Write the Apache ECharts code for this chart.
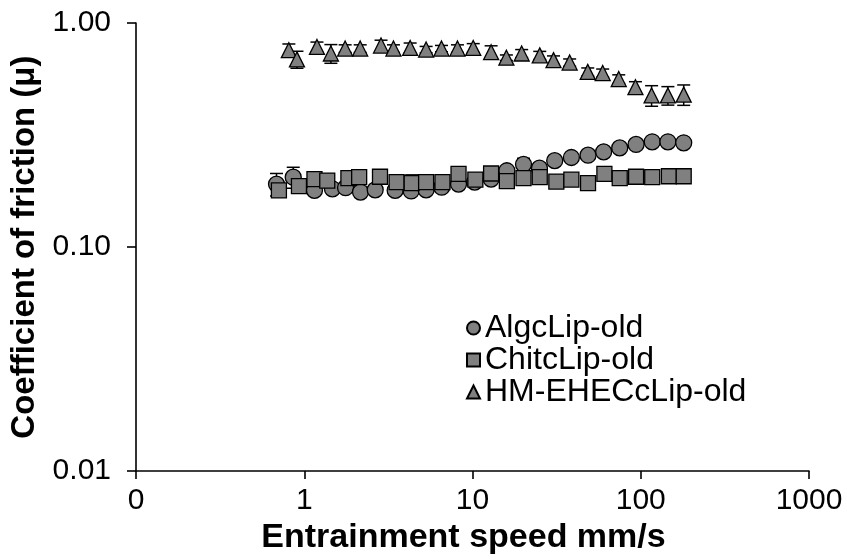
<!DOCTYPE html>
<html>
<head>
<meta charset="utf-8">
<script src="https://cdn.jsdelivr.net/npm/echarts@6/dist/echarts.min.js"></script>
<style>
  html, body { margin: 0; padding: 0; background: #fff; }
  #chart { width: 847px; height: 560px; }
</style>
</head>
<body>
<div id="chart"></div>
<script>
// Friction coefficient vs. entrainment speed (log–log), three lubricant formulations

const seriesNames = ['AlgcLip-old', 'ChitcLip-old', 'HM-EHECcLip-old'];

// AlgcLip-old
const algSpeed = [0.684, 0.86, 1.15, 1.47, 1.76, 2.16, 2.64, 3.47, 4.32, 5.30, 6.56, 8.26, 10.3,
  12.9, 16.0, 20.1, 25.0, 30.8, 38.7, 48.6, 60.2, 75.0, 93.8, 117, 145, 180];
const algMu = [0.191, 0.205, 0.179, 0.182, 0.184, 0.176, 0.180, 0.179, 0.178, 0.180, 0.185, 0.191, 0.195,
  0.201, 0.219, 0.234, 0.225, 0.243, 0.251, 0.257, 0.266, 0.277, 0.287, 0.295, 0.295, 0.292];
const algErr = [0.022, 0.022, 0.008, 0.008, 0.008, 0.008, 0.008, 0.008, 0.008, 0.008, 0.008, 0.008, 0.008,
  0.008, 0.008, 0.015, 0.008, 0.008, 0.008, 0.008, 0.008, 0.008, 0.008, 0.008, 0.008, 0.008];

// ChitcLip-old
const chiSpeed = [0.707, 0.93, 1.15, 1.37, 1.83, 2.12, 2.82, 3.54, 4.35, 5.30, 6.63, 8.26, 10.4,
  12.9, 16.0, 20.1, 25.1, 31.5, 38.7, 48.6, 60.8, 75.0, 93.8, 117, 147, 180];
const chiMu = [0.179, 0.187, 0.201, 0.198, 0.203, 0.205, 0.206, 0.195, 0.193, 0.195, 0.195, 0.212, 0.200,
  0.213, 0.197, 0.203, 0.205, 0.196, 0.200, 0.193, 0.212, 0.203, 0.206, 0.205, 0.207, 0.207];
const chiErr = [0.008, 0.006, 0.006, 0.006, 0.006, 0.006, 0.006, 0.006, 0.017, 0.006, 0.006, 0.006, 0.006,
  0.006, 0.006, 0.006, 0.006, 0.006, 0.006, 0.006, 0.006, 0.006, 0.006, 0.006, 0.006, 0.006];

// HM-EHECcLip-old
const hmSpeed = [0.81, 0.905, 1.19, 1.44, 1.75, 2.15, 2.86, 3.39, 4.26, 5.30, 6.54, 8.14, 10.1,
  12.9, 15.9, 19.6, 25.1, 30.3, 37.8, 48.4, 59.4, 74.0, 93.0, 116, 145, 180];
const hmMu = [0.756, 0.688, 0.782, 0.731, 0.769, 0.769, 0.793, 0.769, 0.774, 0.761, 0.769, 0.769, 0.774,
  0.741, 0.700, 0.731, 0.717, 0.683, 0.666, 0.605, 0.598, 0.562, 0.517, 0.475, 0.475, 0.479];
const hmErr = [0.05, 0.06, 0.04, 0.07, 0.03, 0.03, 0.045, 0.03, 0.04, 0.025, 0.025, 0.03, 0.035,
  0.05, 0.02, 0.03, 0.03, 0.03, 0.025, 0.025, 0.025, 0.025, 0.03, 0.05, 0.045, 0.05];

// Axis range and tick labels
const xMin = 0.1, xMax = 1000;
const yMin = 0.01, yMax = 1;
const xTickLabels = { 0.1: '0', 1: '1', 10: '10', 100: '100', 1000: '1000' };

const FONT = 'Liberation Sans, Arial, sans-serif';
const FILL = '#808080';

function zip3(xs, ys, es) {
  return xs.map((x, i) => [x, ys[i], es[i]]);
}

// Vertical error bar with caps
function errorBarRenderer(params, api) {
  const x = api.value(0), y = api.value(1), e = api.value(2);
  const top = api.coord([x, y + e]);
  const bot = api.coord([x, y - e]);
  const half = 6.5;
  const style = { stroke: '#000', lineWidth: 1.5, fill: null };
  return {
    type: 'group',
    children: [
      { type: 'line', shape: { x1: top[0], y1: top[1], x2: bot[0], y2: bot[1] }, style },
      { type: 'line', shape: { x1: top[0] - half, y1: top[1], x2: top[0] + half, y2: top[1] }, style },
      { type: 'line', shape: { x1: bot[0] - half, y1: bot[1], x2: bot[0] + half, y2: bot[1] }, style }
    ]
  };
}

function errSeries(data) {
  return {
    type: 'custom',
    renderItem: errorBarRenderer,
    data: data,
    encode: { x: 0, y: 1 },
    z: 1,
    silent: true
  };
}

function pointSeries(name, xs, ys, symbol, size) {
  return {
    name: name,
    type: 'scatter',
    symbol: symbol,
    symbolSize: size,
    data: xs.map((x, i) => [x, ys[i]]),
    itemStyle: { color: FILL, borderColor: '#000', borderWidth: 1.3, opacity: 1 },
    z: 3
  };
}

const chart = echarts.init(document.getElementById('chart'), null, { renderer: 'canvas' });

chart.setOption({
  animation: false,
  backgroundColor: '#fff',
  grid: { left: 136, top: 23, right: 38, bottom: 77, containLabel: false },
  xAxis: {
    type: 'log',
    logBase: 10,
    min: xMin,
    max: xMax,
    name: 'Entrainment speed mm/s',
    nameLocation: 'middle',
    nameGap: 43,
    nameTextStyle: {
      fontFamily: FONT, fontSize: 34, fontWeight: 'bold', color: '#000',
      padding: [0, 18, 0, 0]
    },
    axisLine: { lineStyle: { color: '#000', width: 1.6 } },
    axisTick: { show: true, inside: false, length: 8, lineStyle: { color: '#000', width: 1.6 } },
    minorTick: { show: false },
    splitLine: { show: false },
    axisLabel: {
      fontFamily: FONT, fontSize: 30, color: '#000', margin: 15,
      formatter: (v) => {
        const k = Math.round(Math.log10(v));
        const key = Math.pow(10, k);
        return xTickLabels[key] !== undefined ? xTickLabels[key] : String(v);
      }
    }
  },
  yAxis: {
    type: 'log',
    logBase: 10,
    min: yMin,
    max: yMax,
    name: 'Coefficient of friction (μ)',
    nameLocation: 'middle',
    nameGap: 89,
    nameTextStyle: { fontFamily: FONT, fontSize: 33, fontWeight: 'bold', color: '#000' },
    axisLine: { lineStyle: { color: '#000', width: 1.6 } },
    axisTick: { show: true, inside: false, length: 9, lineStyle: { color: '#000', width: 1.6 } },
    splitLine: { show: false },
    axisLabel: {
      fontFamily: FONT, fontSize: 30, color: '#000', margin: 25,
      formatter: (v) => v.toFixed(2)
    }
  },
  legend: {
    orient: 'vertical',
    left: 461,
    top: 307,
    itemWidth: 13,
    itemHeight: 13,
    itemGap: 0,
    selectedMode: false,
    textStyle: { fontFamily: FONT, fontSize: 32, color: '#000' },
    data: seriesNames
  },
  series: [
    errSeries(zip3(algSpeed, algMu, algErr)),
    errSeries(zip3(chiSpeed, chiMu, chiErr)),
    errSeries(zip3(hmSpeed, hmMu, hmErr)),
    pointSeries(seriesNames[0], algSpeed, algMu, 'circle', 16),
    pointSeries(seriesNames[1], chiSpeed, chiMu, 'rect', 15),
    pointSeries(seriesNames[2], hmSpeed, hmMu, 'triangle', 15)
  ]
});
</script>
</body>
</html>
